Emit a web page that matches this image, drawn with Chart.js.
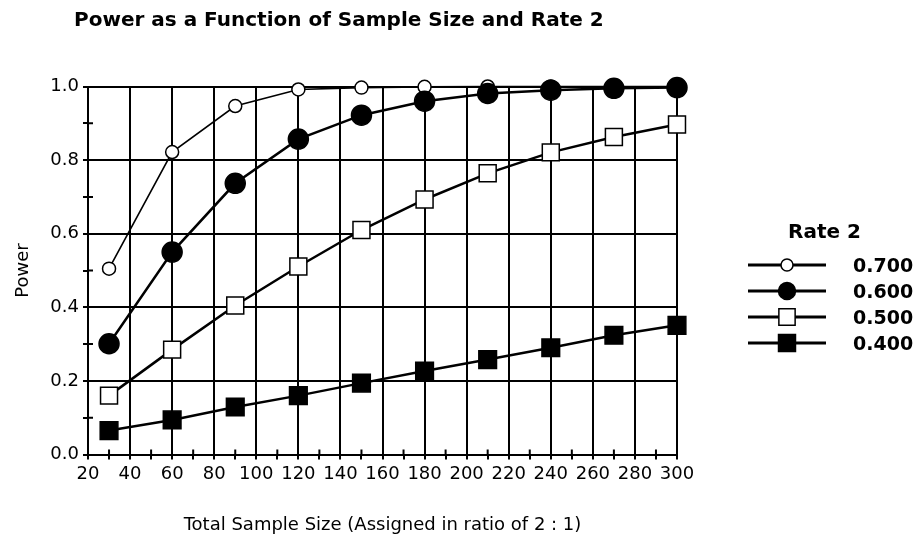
<!DOCTYPE html>
<html><head><meta charset="utf-8">
<script src="https://cdn.jsdelivr.net/npm/chart.js@4.4.1/dist/chart.umd.min.js"></script>
<style>html,body{margin:0;padding:0;background:#fff;} canvas{display:block;}</style>
</head><body>
<canvas id="c" width="919" height="537"></canvas>
<script>
const chartTitle = 'Power as a Function of Sample Size and Rate 2';
const xAxisTitle = 'Total Sample Size (Assigned in ratio of 2 : 1)';
const yAxisTitle = 'Power';
const legendTitle = 'Rate 2';
const sampleSizes = [30, 60, 90, 120, 150, 180, 210, 240, 270, 300];
const seriesLabels = ['0.700', '0.600', '0.500', '0.400'];
const power700 = [0.505, 0.822, 0.947, 0.992, 0.997, 0.999, 1.0, 1.0, 1.0, 1.0];
const power600 = [0.301, 0.550, 0.737, 0.857, 0.922, 0.960, 0.981, 0.990, 0.995, 0.997];
const power500 = [0.160, 0.285, 0.405, 0.511, 0.610, 0.693, 0.764, 0.821, 0.863, 0.897];
const power400 = [0.065, 0.094, 0.129, 0.160, 0.194, 0.227, 0.258, 0.290, 0.324, 0.351];
const xTickLabels = ['20','40','60','80','100','120','140','160','180','200','220','240','260','280','300'];
const yTickLabels = ['0.0','0.2','0.4','0.6','0.8','1.0'];

const FONT = '"DejaVu Sans", sans-serif';
const seriesValues = [power700, power600, power500, power400];
const styles = [
  {pointStyle: 'circle', radius: 6.5, fill: '#fff', lineWidth: 1.6, legendRadius: 6, order: 1},
  {pointStyle: 'circle', radius: 10, fill: '#000', lineWidth: 2.5, legendRadius: 8.5, order: 0},
  {pointStyle: 'rect', radius: 12, fill: '#fff', lineWidth: 2.5, legendRadius: 11.5, order: 2},
  {pointStyle: 'rect', radius: 12.5, fill: '#000', lineWidth: 2.5, legendRadius: 12, order: 3}
];

const datasets = seriesLabels.map((lab, i) => ({
  label: lab,
  data: sampleSizes.map((x, j) => ({x: x, y: seriesValues[i][j]})),
  borderColor: '#000',
  borderWidth: styles[i].lineWidth,
  backgroundColor: styles[i].fill,
  pointStyle: styles[i].pointStyle,
  pointRadius: styles[i].radius,
  pointHoverRadius: styles[i].radius,
  pointBackgroundColor: styles[i].fill,
  pointBorderColor: '#000',
  pointBorderWidth: 1.5,
  tension: 0,
  fill: false,
  clip: false,
  order: styles[i].order
}));

const extras = {
  id: 'extras',
  beforeDatasetsDraw(chart) {
    const {ctx, scales: {x, y}} = chart;
    ctx.save();
    ctx.strokeStyle = '#000';
    ctx.lineWidth = 2;
    ctx.beginPath();
    x.ticks.forEach(t => {
      if (!xTickLabels.includes(String(Math.round(t.value)))) {
        const px = x.getPixelForValue(t.value);
        ctx.moveTo(px, y.bottom); ctx.lineTo(px, y.bottom - 5);
      }
    });
    y.ticks.forEach(t => {
      if (!yTickLabels.includes(t.value.toFixed(1))) {
        const py = y.getPixelForValue(t.value);
        ctx.moveTo(x.left, py); ctx.lineTo(x.left + 5, py);
      }
    });
    ctx.stroke();
    ctx.restore();
  },
  afterDraw(chart) {
    const ctx = chart.ctx;
    ctx.save();
    ctx.fillStyle = '#000';
    ctx.textAlign = 'left';
    ctx.textBaseline = 'alphabetic';
    ctx.font = 'bold 20px ' + FONT;
    ctx.fillText(chartTitle, 74, 26);
    ctx.fillText(legendTitle, 788, 238);
    const rows = [265, 291, 317, 343];
    chart.data.datasets.forEach((ds, i) => {
      const yy = rows[i];
      ctx.strokeStyle = '#000';
      ctx.lineWidth = 3;
      ctx.beginPath(); ctx.moveTo(748, yy); ctx.lineTo(826, yy); ctx.stroke();
      ctx.fillStyle = ds.pointBackgroundColor;
      ctx.lineWidth = 1.5;
      Chart.helpers.drawPoint(ctx, {pointStyle: ds.pointStyle, radius: styles[i].legendRadius, borderWidth: 1.5, rotation: 0}, 787, yy);
      ctx.fillStyle = '#000';
      ctx.font = 'bold 19px ' + FONT;
      ctx.fillText(ds.label, 853, yy + 7);
    });
    ctx.restore();
  }
};

new Chart(document.getElementById('c'), {
  type: 'line',
  data: {datasets: datasets},
  options: {
    responsive: false,
    animation: false,
    devicePixelRatio: 1,
    layout: {padding: {top: 86.5, right: 242, left: 0, bottom: 0}},
    plugins: {legend: {display: false}, tooltip: {enabled: false}, title: {display: false}},
    scales: {
      x: {
        type: 'linear', min: 20, max: 300,
        ticks: {stepSize: 10, autoSkip: false, maxRotation: 0, minRotation: 0, padding: 4, color: '#000',
          font: {family: FONT, size: 18},
          callback: v => { const s = String(Math.round(v)); return xTickLabels.includes(s) ? s : ''; }},
        grid: {color: c => (c.tick && xTickLabels.includes(String(Math.round(c.tick.value)))) ? '#000' : 'rgba(0,0,0,0)',
          lineWidth: 2, tickColor: '#000', tickWidth: 2, tickLength: 5, drawTicks: true},
        border: {color: '#000', width: 2},
        title: {display: true, text: xAxisTitle, color: '#000', font: {family: FONT, size: 18}, padding: {top: 0, bottom: 1.2}},
        afterFit: s => { s.height = 82.5; }
      },
      y: {
        min: 0, max: 1,
        ticks: {stepSize: 0.1, autoSkip: false, padding: 4, color: '#000',
          font: {family: FONT, size: 18},
          callback: v => { const s = v.toFixed(1); return yTickLabels.includes(s) ? s : ''; }},
        grid: {color: c => (c.tick && yTickLabels.includes(c.tick.value.toFixed(1))) ? '#000' : 'rgba(0,0,0,0)',
          lineWidth: 2, tickColor: '#000', tickWidth: 2, tickLength: 5, drawTicks: true},
        border: {color: '#000', width: 2},
        title: {display: true, text: yAxisTitle, color: '#000', font: {family: FONT, size: 18}, padding: {top: 12.7, bottom: 0}},
        afterFit: s => { s.width = 88; }
      }
    }
  },
  plugins: [extras]
});
</script>
</body></html>
